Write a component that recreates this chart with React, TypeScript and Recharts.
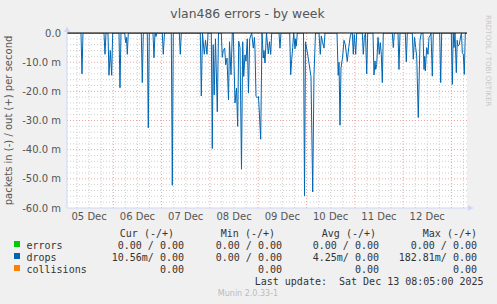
import React from 'react';
import { LineChart, Line, XAxis, YAxis, CartesianGrid, ReferenceLine } from 'recharts';

type Pt = [number, number];

// hours since 05 Dec 00:00, drops (in, milli-packets/s, negative side)
const dec05: Pt[] = [
  [1.0, 0], [7.95, 0], [8.45, -14], [8.94, 0], [19.38, 0], [19.88, -7.3], [20.37, 0], [21.37, 0],
  [21.86, -14.5], [22.51, -6], [23.2, -14.5], [23.7, 0],
];
const dec06: Pt[] = [
  [26.83, 0], [27.33, -18.8], [27.83, 0], [29.66, 0], [30.16, -3.3], [30.56, -1.5], [30.96, -7.3], [31.45, 0],
  [37.91, 0], [38.41, -17], [38.91, 0], [40.89, 0], [41.39, -32.5], [41.89, 0], [43.73, 0], [44.22, -8.5],
  [44.72, 0], [45.22, -1.2], [45.71, 0],
];
const dec07: Pt[] = [
  [48.35, 0], [48.84, -7.3], [49.44, 0], [52.82, 0], [53.32, -52.2], [53.81, 0], [56.8, 0], [57.29, -7.3],
  [57.79, 0], [67.23, 0], [67.73, -21.6], [68.32, 0], [69.22, -7.3], [69.81, -2.5], [70.56, -7.3], [71.06, 0],
];
const dec08: Pt[] = [
  [72.7, 0], [73.19, -39.6], [73.64, -4], [74.14, -21.2], [74.78, -2], [75.68, -27], [76.27, 0], [77.67, 0],
  [78.16, -8.3], [78.66, -6], [79.36, -5.2], [79.85, -10.9], [80.5, -8.6], [81.24, -22.9], [81.74, -3],
  [82.49, -14.3], [83.13, 0], [83.63, 0], [84.47, -24], [85.22, -18.9], [85.81, -32], [86.31, -2.8],
  [86.96, -5], [87.7, -46.7], [88.3, -3], [88.8, -14.9], [89.44, -7.5], [89.94, -9.7], [90.59, -2],
  [91.18, -20.6], [91.78, -2], [92.77, 0], [93.57, -5.2], [94.16, -1.5], [94.41, -5.7], [94.91, -21.8],
  [95.65, -22.2],
];
const dec09: Pt[] = [
  [96.15, -21.8], [97.24, -36.4], [97.89, 0], [98.54, -8.6], [98.88, -6], [99.38, -10.3], [100.12, 0],
  [101.02, -7.2], [101.62, -3], [102.21, -7.3], [102.71, 0], [106.34, 0], [106.83, -5.2], [107.33, 0],
  [111.65, 0], [112.15, -14.3], [112.65, -9], [113.14, -5], [113.64, 0], [114.29, -5.4], [114.63, -2],
  [114.93, -4.5], [115.43, 0], [118.51, 0], [119.01, -55.8], [119.5, -3],
];
const dec10: Pt[] = [
  [120.75, -8], [122.24, -15], [123.08, -54.5], [123.73, -14.2], [124.47, 0], [126.21, 0], [126.86, -7.3],
  [127.36, -1], [127.95, -3], [128.7, -5.2], [129.19, 0], [135.16, 0], [135.75, -14.5], [136.15, -10],
  [136.65, -31.6], [137.14, -12], [137.99, -7.9], [138.64, -2.5], [139.28, -4], [140.27, -9.8], [140.97, -5],
  [141.77, -1], [142.26, 0], [142.76, 0], [143.26, -7.3], [143.75, -0.5],
];
const dec11: Pt[] = [
  [144.45, -7.3], [144.94, 0], [147.73, 0], [148.23, -7.3], [148.72, -1.5], [149.32, 0], [149.91, -14],
  [150.41, 0], [153.04, 0], [153.54, -14.4], [154.04, -9.6], [154.39, -12.5], [154.88, -10.8], [155.53, -1.5],
  [156.17, -7.3], [156.67, -3.3], [157.17, -7.3], [157.67, -17], [158.16, 0], [162.63, 0], [163.13, -5],
  [163.63, 0], [165.47, 0], [165.96, -12.5], [166.46, 0],
];
const dec12: Pt[] = [
  [169.1, 0], [169.59, -9.9], [170.09, 0], [172.57, 0], [173.07, -9], [173.67, -1.5], [174.26, -5],
  [174.76, -7.9], [175.55, -29], [176.4, -2.5], [177.05, 0], [177.89, 0], [178.39, -12.5], [178.73, -8],
  [179.03, -13], [179.73, -5], [180.37, -7.3], [180.87, -1.5], [181.37, -1], [181.87, 0], [182.51, -14.8],
  [183.01, 0], [186.19, 0], [186.68, -17], [187.18, 0], [191.95, 0],
];
const dec13: Pt[] = [
  [192.45, -17.6], [192.9, 0], [193.29, -5], [193.79, 0], [194.44, -13.6], [194.88, -2.5], [195.28, -4.5],
  [195.93, -4], [196.62, -1], [197.02, 0], [197.42, -6.8], [197.91, -7.3], [198.41, -14.2], [198.91, 0],
  [199.75, 0],
];

const dayLabels = ['05 Dec', '06 Dec', '07 Dec', '08 Dec', '09 Dec', '10 Dec', '11 Dec', '12 Dec'];
const labelHours = [12, 36, 60, 84, 108, 132, 156, 180];
const majorHours = [24, 48, 72, 96, 120, 144, 168, 192];
const yTicks = [0, -10, -20, -30, -40, -50, -60];
const majorY = [-10, -20, -30, -40, -50];

const legendHeads = ['Cur (-/+)', 'Min (-/+)', 'Avg (-/+)', 'Max (-/+)'];
const errorsVals = ['0.00 / 0.00', '0.00 / 0.00', '0.00 / 0.00', '0.00 / 0.00'];
const dropsVals = ['10.56m/ 0.00', '0.00 / 0.00', '4.25m/ 0.00', '182.81m/ 0.00'];
const collisionsVals = ['0.00', '0.00', '0.00', '0.00'];
const seriesNames = ['errors', 'drops', 'collisions'];
const seriesColors = ['#00CC00', '#0066B3', '#FF8000'];

const data = [...dec05, ...dec06, ...dec07, ...dec08, ...dec09, ...dec10, ...dec11, ...dec12, ...dec13].map(
  ([h, v]) => ({ h, drops: v })
);

const minorHours: number[] = [];
for (let h = 6; h < 200; h += 6) if (h % 24 !== 0) minorHours.push(h);
const minorY: number[] = [];
for (let v = -2; v > -60; v -= 2) if (v % 10 !== 0) minorY.push(v);

const MINOR = '#cfcfcf';
const MAJOR = '#e9a3a3';
const AXIS = '#CFD6F8';
const SANS = 'DejaVu Sans, sans-serif';
const MONO = 'DejaVu Sans Mono, monospace';

const fmtY = (v: number) => (v === 0 ? '0.0' : `${v.toFixed(1)} m`);

const valueEnds = [184, 282, 379, 477];
const headEnds = [174, 275, 376, 477];
const rowsVals = [errorsVals, dropsVals, collisionsVals];

export default function App() {
  return (
    <div style={{ position: 'absolute', left: 0, top: 0, width: 497, height: 304, background: '#F0F0F0' }}>
      <LineChart width={497} height={304} data={data} margin={{ top: 33, right: 30, bottom: 76, left: 7 }}>
        <CartesianGrid fill="#FFFFFF" horizontal={false} vertical={false} stroke="none" />
        {minorY.map((v) => (
          <ReferenceLine key={'my' + v} y={v} stroke={MINOR} strokeDasharray="1 2" />
        ))}
        {minorHours.map((h) => (
          <ReferenceLine key={'mh' + h} x={h} stroke={MINOR} strokeDasharray="1 2" />
        ))}
        {majorY.map((v) => (
          <ReferenceLine key={'My' + v} y={v} stroke={MAJOR} strokeDasharray="1 2" />
        ))}
        {majorHours.map((h) => (
          <ReferenceLine key={'Mh' + h} x={h} stroke={MAJOR} strokeDasharray="1 2" />
        ))}
        <XAxis
          dataKey="h"
          type="number"
          domain={[1, 199.75]}
          allowDataOverflow
          ticks={labelHours}
          interval={0}
          tickFormatter={(v: number) => dayLabels[labelHours.indexOf(v)] ?? ''}
          tickLine={false}
          tickSize={3}
          tickMargin={2}
          height={20}
          axisLine={{ stroke: AXIS }}
          tick={{ fill: '#555', fontSize: 10, fontFamily: SANS }}
        />
        <YAxis
          type="number"
          domain={[-60, 0]}
          allowDataOverflow
          ticks={yTicks}
          interval={0}
          tickFormatter={fmtY}
          width={60}
          tickLine={false}
          tickSize={4}
          tickMargin={2}
          axisLine={{ stroke: AXIS }}
          tick={{ fill: '#555', fontSize: 10, fontFamily: SANS }}
        />
        <Line
          dataKey="drops"
          type="linear"
          stroke="#0066B3"
          strokeWidth={1}
          dot={false}
          activeDot={false}
          isAnimationActive={false}
        />
        <ReferenceLine y={0} stroke="#000" />
      </LineChart>
      <svg
        width={497}
        height={304}
        style={{ position: 'absolute', left: 0, top: 0, pointerEvents: 'none' }}
      >
        <text x={247.5} y={18.3} textAnchor="middle" fontFamily={SANS} fontSize={12.4} fill="#555">
          vlan486 errors - by week
        </text>
        <text
          transform="translate(11.5,120.5) rotate(-90)"
          textAnchor="middle"
          fontFamily={SANS}
          fontSize={10}
          fill="#555"
        >
          packets in (-) / out (+) per second
        </text>
        <text transform="translate(486,15) rotate(90)" fontFamily={SANS} fontSize={7.1} fill="#c8c8c8">
          RRDTOOL / TOBI OETIKER
        </text>
        {/* axis extensions and arrows */}
        <line x1={67} y1={33} x2={67} y2={29} stroke={AXIS} />
        <polygon points="64,32 70,32 67,26.5" fill={AXIS} />
        <line x1={467} y1={208} x2={470} y2={208} stroke={AXIS} />
        <polygon points="468,205 468,211 473.5,208" fill={AXIS} />
        {/* legend */}
        {legendHeads.map((t, i) => (
          <text key={'h' + i} x={headEnds[i]} y={237} textAnchor="end" fontFamily={MONO} fontSize={10} fill="#333" style={{ whiteSpace: 'pre' }}>
            {t}
          </text>
        ))}
        {seriesNames.map((n, r) => (
          <g key={n}>
            <rect x={14} y={241 + r * 12} width={6} height={6} fill={seriesColors[r]} />
            <text x={26.5} y={249 + r * 12} fontFamily={MONO} fontSize={10} fill="#333">
              {n}
            </text>
            {rowsVals[r].map((t, i) => (
              <text key={i} x={valueEnds[i]} y={249 + r * 12} textAnchor="end" fontFamily={MONO} fontSize={10} fill="#333" style={{ whiteSpace: 'pre' }}>
                {t}
              </text>
            ))}
          </g>
        ))}
        <text x={483.5} y={285} textAnchor="end" fontFamily={MONO} fontSize={10} fill="#333" style={{ whiteSpace: 'pre' }}>
          Last update:  Sat Dec 13 08:05:00 2025
        </text>
        <text x={248} y={296} textAnchor="middle" fontFamily={SANS} fontSize={8} fill="#bbb">
          Munin 2.0.33-1
        </text>
      </svg>
    </div>
  );
}
